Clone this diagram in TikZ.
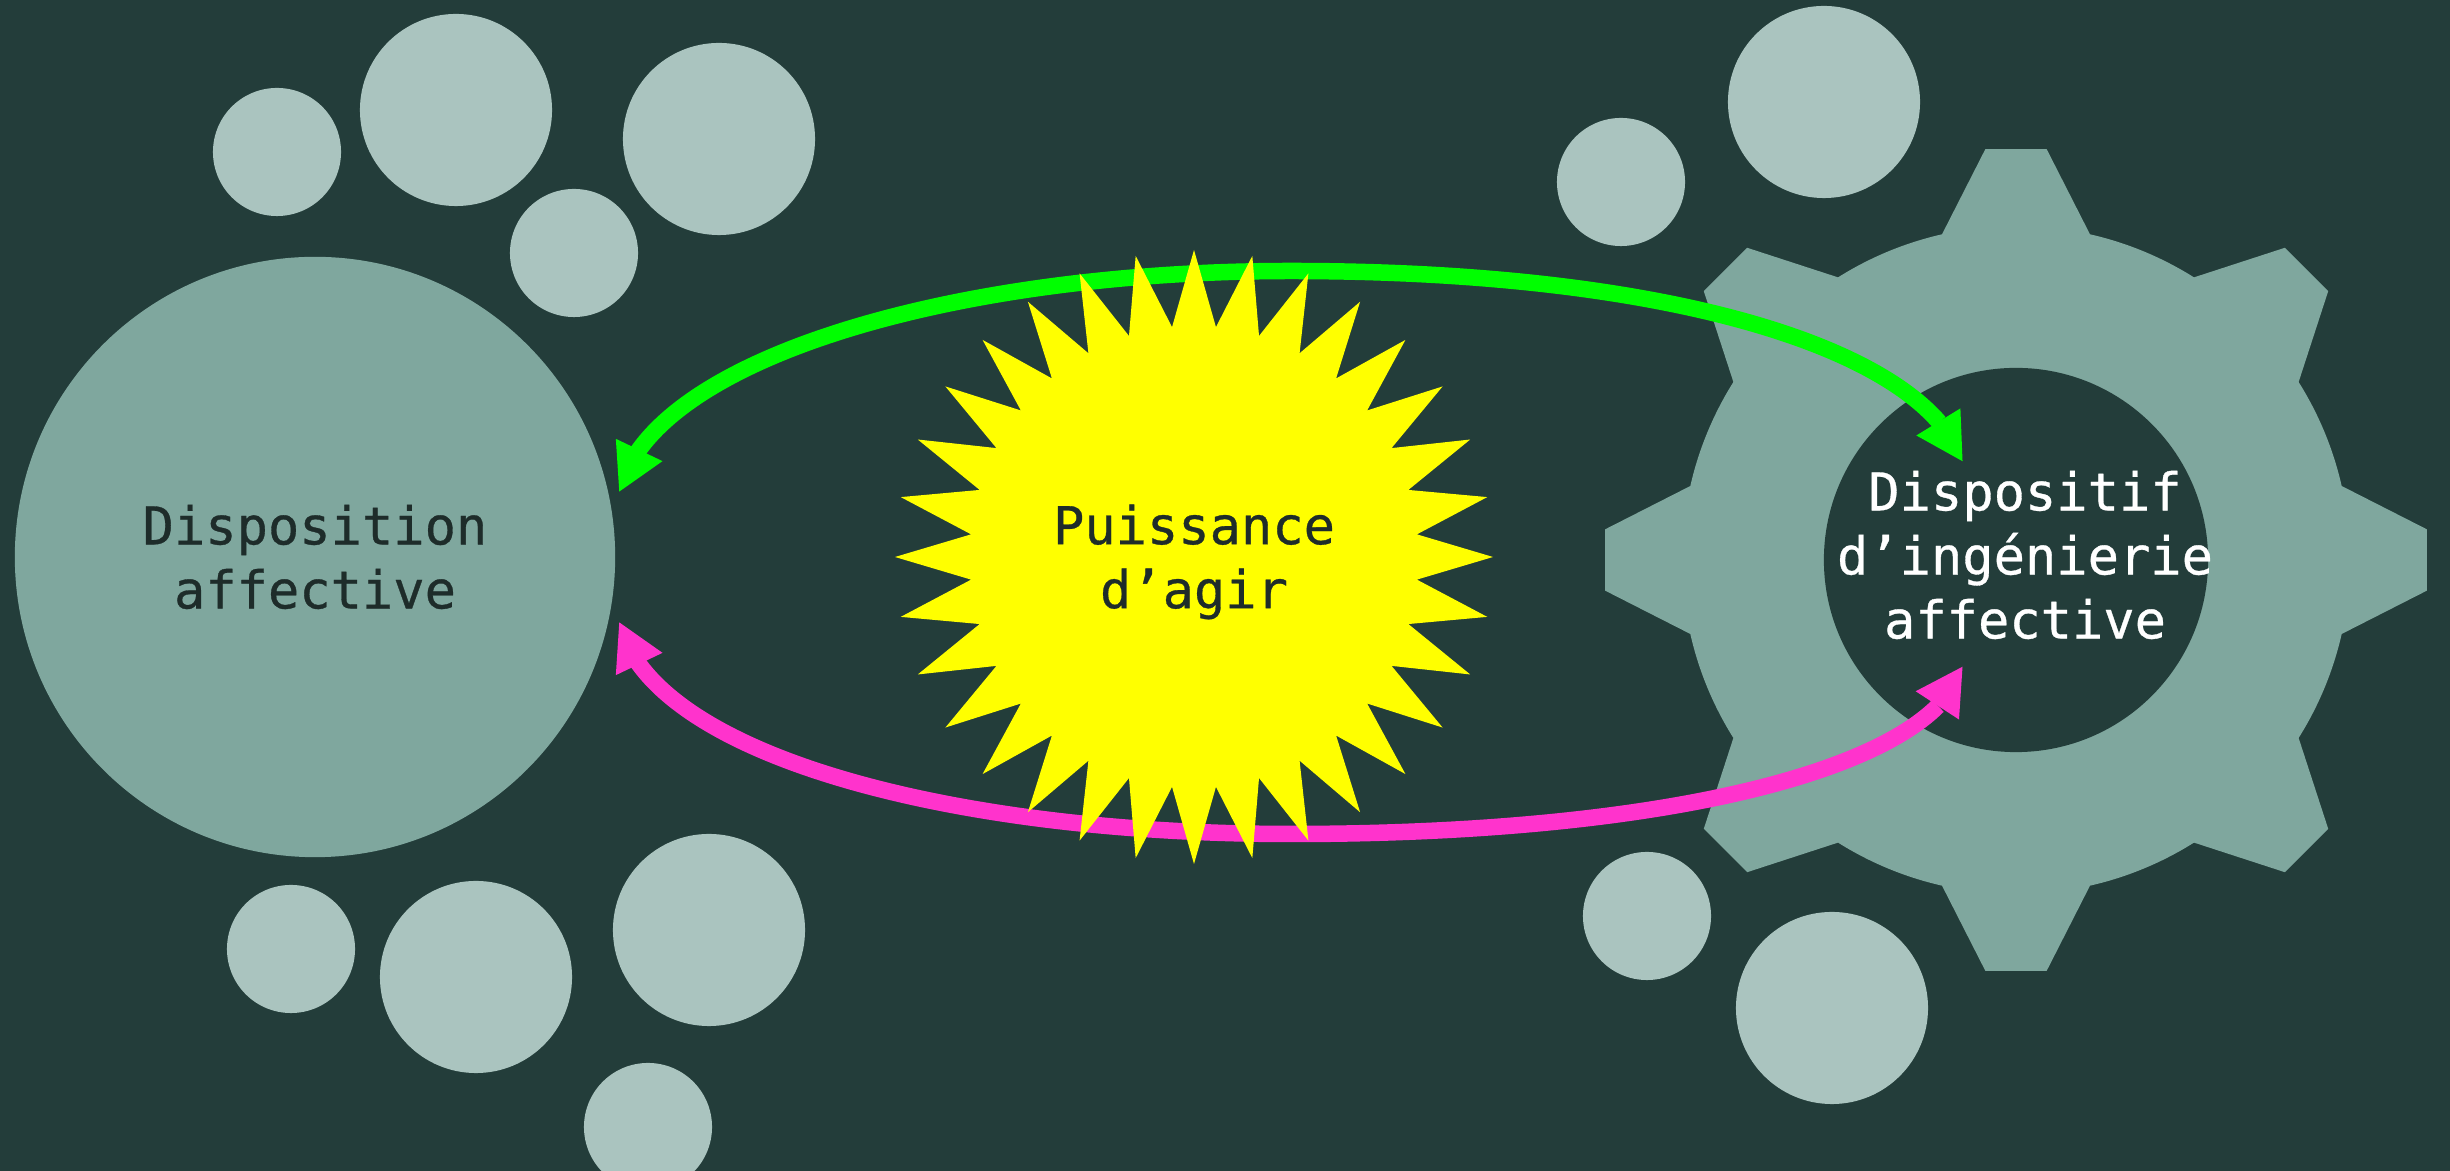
\documentclass[tikz,border=0pt]{standalone}
\usepackage{fontspec}
\newfontfamily\libelle[FakeBold=0.6]{DejaVu Sans Mono}
\usetikzlibrary{
        arrows.meta,
        bending
    }
\definecolor{fond}{RGB}{35,61,58}
\definecolor{encre}{RGB}{30,44,42}
\definecolor{grand}{RGB}{127,167,158}
\definecolor{petit}{RGB}{170,196,191}
\definecolor{rose}{RGB}{255,51,204}
\definecolor{vert}{RGB}{0,255,0}
\definecolor{soleil}{RGB}{255,255,0}
\tikzset{x=0.01cm,y=-0.01cm}
\tikzset{etiquette/.style={font=\libelle\fontsize{14.8pt}{18.2pt}\selectfont,align=center,inner sep=0pt}}
\tikzset{petite/.style={circle,fill=petit,inner sep=0pt,minimum size=1.28cm}}
\tikzset{moyenne/.style={circle,fill=petit,inner sep=0pt,minimum size=1.92cm}}
\tikzset{lien/.style={line width=0.165cm,{Triangle[length=0.47cm,width=0.48cm,flex]}-{Triangle[length=0.47cm,width=0.48cm,flex]}}}

\begin{document}
\begin{tikzpicture}
                    \fill[fond] (0,0) rectangle (2450,1171);
                    \useasboundingbox (0,0) rectangle (2450,1171);
                    \node[petite] (a1) at (277,152) {};
                    \node[moyenne] (a2) at (456,110) {};
                    \node[moyenne] (a3) at (719,139) {};
                    \node[petite] (a4) at (574,253) {};
                    \node[petite] (b1) at (291,949) {};
                    \node[moyenne] (b2) at (476,977) {};
                    \node[moyenne] (b3) at (709,930) {};
                    \node[petite] (b4) at (648,1127) {};
                    \node[petite] (c1) at (1621,182) {};
                    \node[moyenne] (c2) at (1824,102) {};
                    \node[petite] (d1) at (1647,916) {};
                    \node[moyenne] (d2) at (1832,1008) {};
                    \node[circle,fill=grand,inner sep=0pt,outer sep=0.105cm,minimum size=6cm] (disposition) at (315,557) {};
                    \begin{scope}[shift={(2016,560)}]
                        \fill[grand] (-12.8:334)
                            \foreach \a in {0,45,...,315} {
                                -- ({\a-4.27}:412) -- ({\a+4.27}:412) -- ({\a+12.8}:334)
                                arc[start angle={\a+12.8},end angle={\a+32.2},radius=334]
                            } -- cycle;
                    \end{scope}
                    \node[circle,fill=fond,inner sep=0pt,minimum size=3.84cm] (moyeu) at (2016,560) {};
                    \coordinate (finvert) at ([shift={(-53,-98)}]moyeu.center);
                    \coordinate (finrose) at ([shift={(-53,106)}]moyeu.center);
                    \draw[lien,vert] (disposition.12.6) .. controls (650,360) and (950,271) .. (1291,271)
                        .. controls (1680,271) and (1925,352) .. (finvert);
                    \draw[lien,rose] (disposition.-12.9) .. controls (650,755) and (950,834) .. (1291,834)
                        .. controls (1680,834) and (1935,765) .. (finrose);
                    \begin{scope}[shift={(1194,557)}]
                        \fill[soleil] (0:299 and 307)
                            \foreach \a in {0,11.25,...,348.75} {
                                -- ({\a+5.625}:224 and 231) -- ({\a+11.25}:299 and 307)
                            } -- cycle;
                    \end{scope}
                    \node[etiquette,text=encre] (disp) at (315,557) {Disposition\\affective};
                    \node[etiquette,text=encre] (puissance) at (1194,562) {Puissance\\d’agir};
                    \node[etiquette,text=white] (dispositif) at (2025,555) {Dispositif\\d’ingénierie\\affective};
                \end{tikzpicture}
\end{document}
